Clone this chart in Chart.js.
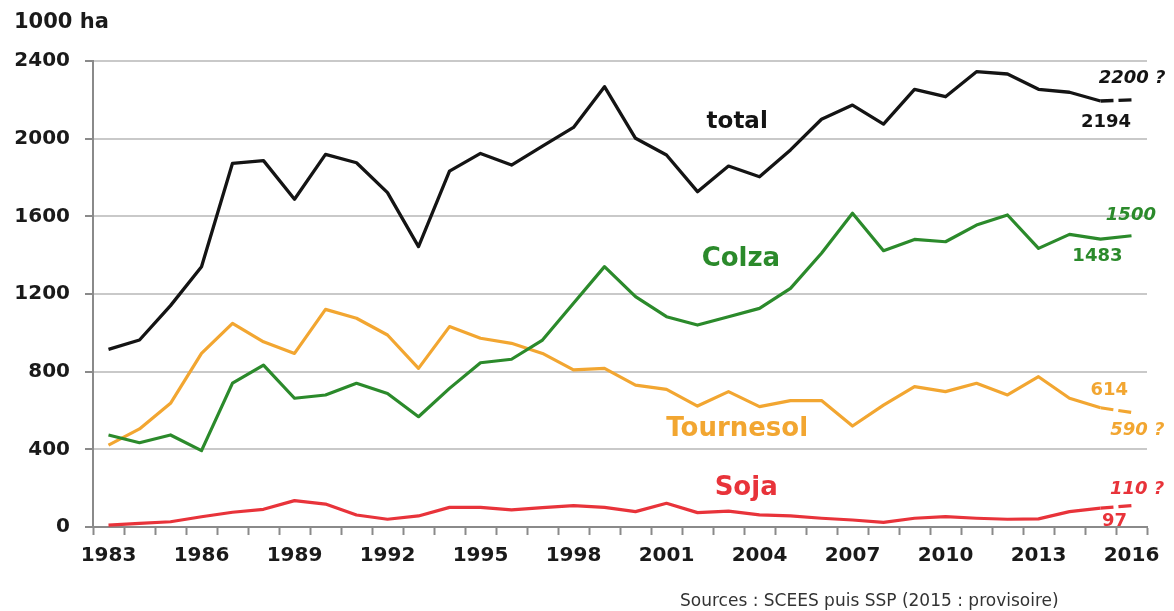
<!DOCTYPE html>
<html>
<head>
<meta charset="utf-8">
<script src="https://cdn.jsdelivr.net/npm/chart.js@4.4.1/dist/chart.umd.min.js"></script>
<style>
html,body{margin:0;padding:0;background:#fff;}
#c{display:block;}
</style>
</head>
<body>
<canvas id="c" width="1174" height="611"></canvas>
<script>
const years = ['1983','1984','1985','1986','1987','1988','1989','1990','1991','1992',
  '1993','1994','1995','1996','1997','1998','1999','2000','2001','2002',
  '2003','2004','2005','2006','2007','2008','2009','2010','2011','2012',
  '2013','2014','2015','2016'];
const tickYears = ['1983','1986','1989','1992','1995','1998','2001','2004','2007','2010','2013','2016'];
const total = [915,963,1140,1340,1873,1887,1688,1919,1876,1722,
  1444,1833,1924,1864,1962,2058,2268,2002,1916,1727,
  1859,1804,1942,2100,2173,2075,2254,2216,2345,2333,
  2254,2239,2194,2200];
const colza = [474,434,474,393,741,834,663,680,740,688,
  568,714,846,864,963,1152,1341,1186,1083,1040,
  1083,1126,1229,1410,1616,1423,1481,1469,1555,1607,
  1435,1507,1483,1500];
const tournesol = [422,505,637,894,1049,954,894,1121,1075,989,
  817,1032,972,946,894,809,817,731,709,623,
  697,620,651,651,520,628,723,697,740,680,
  774,663,614,590];
const soja = [10,19,27,53,76,91,136,118,62,40,
  57,101,101,88,100,110,101,79,122,74,
  82,62,57,45,36,24,45,53,45,40,
  42,79,97,110];
const yTicks = [0,400,800,1200,1600,2000,2400];

const C_BLACK = '#141414', C_GREEN = '#2b8a2b', C_ORANGE = '#f2a631', C_RED = '#e8333a';
const FONT = '"DejaVu Sans", sans-serif';

// annotations: [text, category index (fractional), value, color, size, italic]
const notes = [
  ['total', 20.28, 2086, C_BLACK, 23, false],
  ['Colza', 20.4, 1380, C_GREEN, 26, false],
  ['Tournesol', 20.28, 505, C_ORANGE, 26, false],
  ['Soja', 20.57, 201, C_RED, 26, false],
  ['2200 ?', 33.02, 2312, C_BLACK, 18, true],
  ['2194', 32.18, 2086, C_BLACK, 18, false],
  ['1500', 32.98, 1607, C_GREEN, 18, true],
  ['1483', 31.9, 1396, C_GREEN, 18, false],
  ['614', 32.28, 706, C_ORANGE, 18, false],
  ['590 ?', 33.19, 500, C_ORANGE, 18, true],
  ['110 ?', 33.18, 196, C_RED, 18, true],
  ['97', 32.45, 31, C_RED, 18, false]
];

const lastDash = ctx => ctx.p0DataIndex === years.length - 2 ? [13,5] : undefined;

const textPlugin = {
  id: 'texts',
  afterDatasetsDraw(chart) {
    const ctx = chart.ctx, xs = chart.scales.x, ys = chart.scales.y;
    ctx.save();
    ctx.textAlign = 'center';
    ctx.textBaseline = 'middle';
    notes.forEach(n => {
      ctx.font = (n[5] ? 'italic ' : '') + 'bold ' + n[4] + 'px ' + FONT;
      ctx.fillStyle = n[3];
      ctx.fillText(n[0], xs.getPixelForValue(n[1]), ys.getPixelForValue(n[2]));
    });
    ctx.textAlign = 'left';
    ctx.fillStyle = '#1a1a1a';
    ctx.font = 'bold 21px ' + FONT;
    ctx.fillText('1000 ha', 14, 23);
    ctx.fillStyle = '#333';
    ctx.font = '17px ' + FONT;
    ctx.fillText('Sources : SCEES puis SSP (2015 : provisoire)', 680, 602);
    ctx.restore();
  }
};

new Chart(document.getElementById('c'), {
  type: 'line',
  data: {
    labels: years,
    datasets: [
      {label:'total', data: total, borderColor: C_BLACK, borderWidth: 3.3, segment:{borderDash: lastDash}},
      {label:'Colza', data: colza, borderColor: C_GREEN, borderWidth: 3.2},
      {label:'Tournesol', data: tournesol, borderColor: C_ORANGE, borderWidth: 3.2, segment:{borderDash: lastDash}},
      {label:'Soja', data: soja, borderColor: C_RED, borderWidth: 3.2, segment:{borderDash: lastDash}}
    ]
  },
  options: {
    responsive: false,
    devicePixelRatio: 1,
    animation: false,
    events: [],
    layout: {padding: {top: 61, right: 27, left: 0, bottom: 0}},
    elements: {point: {radius: 0}, line: {tension: 0, borderJoinStyle: 'round', fill: false}},
    plugins: {legend: {display: false}, tooltip: {enabled: false}, title: {display: false}},
    scales: {
      x: {
        offset: true,
        grid: {offset: true, drawOnChartArea: false, drawTicks: true, tickLength: 8, tickColor: '#8a8a8a', tickWidth: 2},
        border: {display: true, color: '#8a8a8a', width: 2},
        ticks: {
          autoSkip: false, maxRotation: 0, minRotation: 0, padding: 9,
          color: '#1a1a1a',
          font: {family: FONT, weight: 'bold', size: 20},
          callback: function(v, i) { const y = years[i]; return tickYears.includes(y) ? y : ''; }
        },
        afterFit: s => { s.height = 84; }
      },
      y: {
        min: 0, max: 2400,
        afterBuildTicks: s => { s.ticks = yTicks.map(v => ({value: v})); },
        grid: {color: '#c9c9c9', lineWidth: 2, tickColor: '#8a8a8a', tickLength: 8, tickWidth: 2},
        border: {display: true, color: '#8a8a8a', width: 2},
        ticks: {padding: 15, color: '#1a1a1a', font: {family: FONT, weight: 'bold', size: 20},
          callback: v => String(v)},
        afterFit: s => { s.width = 93; }
      }
    }
  },
  plugins: [textPlugin]
});
</script>
</body>
</html>
